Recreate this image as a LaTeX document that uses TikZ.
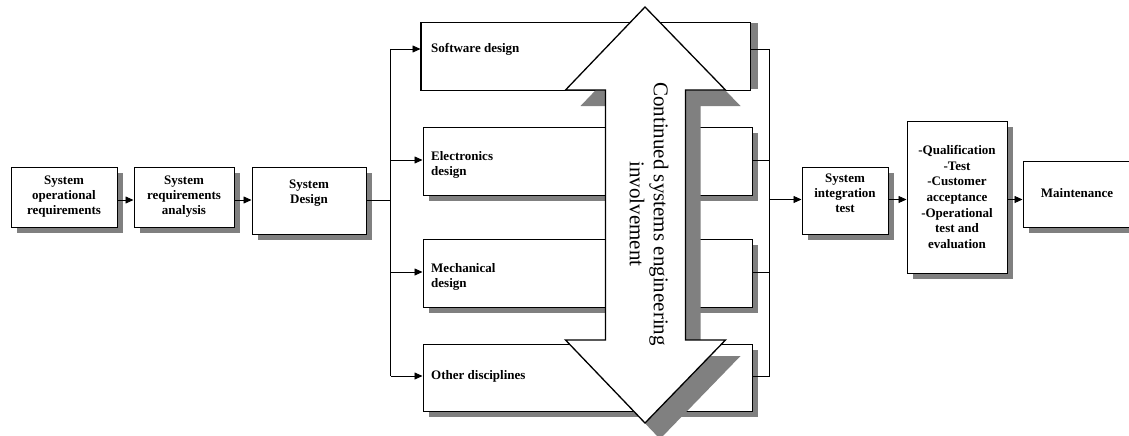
\documentclass[tikz,border=0pt]{standalone}
\usepackage{fontspec}
\setmainfont{Liberation Serif}
\usetikzlibrary{arrows.meta,shadows}
\definecolor{shadowgray}{RGB}{128,128,128}
\tikzset{
  box/.style={draw=black, line width=1pt, fill=white, inner sep=0pt,
    drop shadow={shadow xshift=6pt, shadow yshift=-6pt, fill=shadowgray, opacity=1}},
  flatbox/.style={draw=black, line width=1pt, fill=white, inner sep=0pt},
  lbl/.style={font=\fontsize{13}{15}\selectfont\bfseries, align=center, inner sep=0pt},
  llbl/.style={lbl, align=left, anchor=north west},
  wire/.style={line width=0.8pt},
  arr/.style={wire, -{Triangle[length=8pt,width=7pt]}},
  bigtext/.style={font=\fontsize{21}{24}\selectfont, align=center, inner sep=0pt, rotate=-90},
}
\begin{document}
\begin{tikzpicture}[x=1pt, y=-1pt]
\useasboundingbox (0,0) rectangle (1129,436);
\clip (0,0) rectangle (1129,436);

% main chain boxes
\node[box, minimum width=106pt, minimum height=60pt] (b1) at (64,197) {};
\node[box, minimum width=100pt, minimum height=60pt] (b2) at (184,197) {};
\node[box, minimum width=114pt, minimum height=67pt] (b3) at (309,200.5) {};

% discipline boxes
\node[flatbox, minimum width=329pt, minimum height=67pt] (sw) at (585.5,56.5) {};
\fill[shadowgray] ([xshift=0.5pt, yshift=-1pt]sw.north east) rectangle ([xshift=7pt, yshift=2pt]sw.south east);
\draw[line width=1pt] (sw.north west) rectangle (sw.south east);
\node[box, minimum width=329pt, minimum height=68pt] (el) at (587.5,161) {};
\node[box, minimum width=329pt, minimum height=68pt] (me) at (587.5,273) {};
\node[box, minimum width=329pt, minimum height=67pt] (ot) at (587.5,377.5) {};

% test and maintenance boxes
\node[box, minimum width=86pt, minimum height=67pt] (si) at (845,200.5) {};
\node[box, minimum width=100pt, minimum height=152pt] (q) at (957,197) {};
\node[box, minimum width=108pt, minimum height=66pt] (m) at (1077,194) {};

% box texts
\node[lbl] (b1t) at (64,197) {System\\operational\\requirements};
\node[lbl] (b2t) at (184,197) {System\\requirements\\analysis};
\node[lbl] (b3t) at (309,193) {System\\Design};
\node[lbl, anchor=west] (swt) at (431,49) {Software design};
\node[llbl] (elt) at (431,151.5) {Electronics\\design};
\node[llbl] (met) at (431,263.5) {Mechanical\\design};
\node[lbl, anchor=west] (ott) at (431,376.5) {Other disciplines};
\node[lbl] (sit) at (845,193) {System\\integration\\test};
\node[lbl, font=\fontsize{13}{15.7}\selectfont\bfseries] (qt) at (957,197)
  {-Qualification\\-Test\\-Customer\\acceptance\\-Operational\\test and\\evaluation};
\node[lbl] (mt) at (1077,193.5) {Maintenance};

% connectors along the main chain
\coordinate (row) at (0,200);
\draw[arr] (b1.east |- row) -- (b2.west |- row);
\draw[arr] (b2.east |- row) -- (b3.west |- row);

% fan-out to the disciplines
\coordinate (lsw) at (390.5,49);
\coordinate (lel) at (390.5,160);
\coordinate (lme) at (390.5,272);
\coordinate (lot) at (390.5,376);
\draw[wire] (b3.east |- row) -- (lsw |- row);
\draw[wire] (lsw) -- (lot);
\draw[arr] (lsw) -- (lsw -| sw.west);
\draw[arr] (lel) -- (lel -| el.west);
\draw[arr] (lme) -- (lme -| me.west);
\draw[arr] (lot) -- (lot -| ot.west);

% fan-in to integration
\coordinate (rsw) at (769.5,49);
\coordinate (rel) at (769.5,160);
\coordinate (rme) at (769.5,272);
\coordinate (rot) at (769.5,376);
\coordinate (rsi) at (769.5,199.5);
\draw[wire] (sw.east |- rsw) -- (rsw);
\draw[wire] (el.east |- rel) -- (rel);
\draw[wire] (me.east |- rme) -- (rme);
\draw[wire] (ot.east |- rot) -- (rot);
\draw[wire] (rsw) -- (rot);
\draw[arr] (rsi) -- (rsi -| si.west);
\coordinate (row2) at (0,199.5);
\draw[arr] (si.east |- row2) -- (q.west |- row2);
\draw[arr] (q.east |- row2) -- (m.west |- row2);

% double-headed involvement arrow with its shadow
\def\bigarrow{(645,7) -- (725.5,90) -- (685.5,90) -- (685.5,340) -- (725.5,340) -- (645,423)
  -- (565.5,340) -- (605.5,340) -- (605.5,90) -- (565.5,90) -- cycle}
\fill[shadowgray, shift={(15,16)}] \bigarrow;
\draw[line width=1.3pt, fill=white, line join=miter] \bigarrow;
\node[bigtext] (inv) at (649,214) {Continued systems engineering\\involvement};
\end{tikzpicture}
\end{document}
